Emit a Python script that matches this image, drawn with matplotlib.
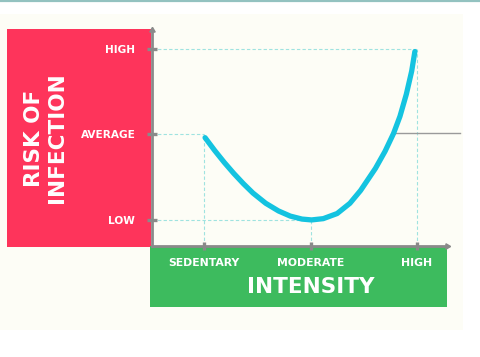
import matplotlib
matplotlib.use("Agg")
import matplotlib.pyplot as plt
from matplotlib.patches import Rectangle
from matplotlib.lines import Line2D

# ---- data ----
x_categories = ["SEDENTARY", "MODERATE", "HIGH"]
y_categories = ["LOW", "AVERAGE", "HIGH"]
x_positions = [0, 1, 2]
y_positions = [0, 1, 2]
curve_x = [0.01, 0.10, 0.19, 0.28, 0.37, 0.46, 0.58, 0.70, 0.81, 0.92, 1.01, 1.12,
           1.25, 1.37, 1.47, 1.61, 1.70, 1.78, 1.84, 1.90, 1.95, 1.98]
curve_y = [0.96, 0.81, 0.67, 0.54, 0.42, 0.31, 0.19, 0.10, 0.04, 0.005, -0.005, 0.01,
           0.07, 0.19, 0.34, 0.60, 0.80, 1.01, 1.21, 1.47, 1.74, 1.97]
# guide points (category x, risk y) where dashed lines meet the curve
guide_x = [0, 1, 2]
guide_y = [1, 0, 2]
stray_line_x = [1.765, 2.40]
stray_line_y = [1.02, 1.02]
y_title = "RISK OF\nINFECTION"
x_title = "INTENSITY"

W, H = 480, 357
fig = plt.figure(figsize=(W / 100, H / 100), dpi=100)
fig.patch.set_facecolor("white")

def fx(px):
    return px / W

def fy(py):
    return 1 - py / H

# cream panel
fig.patches.append(Rectangle((fx(0), fy(330)), fx(463), (330 - 14) / H,
                             transform=fig.transFigure, facecolor="#fdfdf6",
                             edgecolor="none", zorder=0))
# top teal line
fig.lines.append(Line2D([0, 1], [fy(0.8), fy(0.8)], transform=fig.transFigure,
                        color="#93c2c0", lw=1.6))
# red box
fig.patches.append(Rectangle((fx(7), fy(247)), fx(151 - 7), (247 - 29) / H,
                             transform=fig.transFigure, facecolor="#fe345b",
                             edgecolor="none", zorder=1))
# green box
fig.patches.append(Rectangle((fx(150), fy(307)), fx(447 - 150), (307 - 246) / H,
                             transform=fig.transFigure, facecolor="#3dbb5e",
                             edgecolor="none", zorder=1))

left, right, top, bottom = 152, 447, 30, 246
ax = fig.add_axes([fx(left), fy(bottom), fx(right - left), (bottom - top) / H])
ax.set_facecolor("none")
ax.set_zorder(2)
x_unit = 106.5
y_unit = 85.25
ax.set_xlim((left - 204) / x_unit, (right - 204) / x_unit)
ax.set_ylim((219.5 - bottom) / y_unit, (219.5 - top) / y_unit)

gray = "#8a8a8a"
for s in ["top", "right"]:
    ax.spines[s].set_visible(False)
for s in ["left", "bottom"]:
    ax.spines[s].set_color(gray)
    ax.spines[s].set_linewidth(2.0)
    ax.spines[s].set_zorder(6)

font = "DejaVu Sans"
ax.set_xticks(x_positions)
ax.set_xticklabels(x_categories)
ax.set_yticks(y_positions)
ax.set_yticklabels(y_categories)
ax.tick_params(axis="y", direction="inout", length=7, width=2.4, color=gray,
               pad=8.5, labelcolor="white", labelsize=7.6)
ax.tick_params(axis="x", direction="inout", length=6, width=2.4, color=gray,
               pad=6, labelcolor="white", labelsize=7.8)
for lab in ax.get_xticklabels() + ax.get_yticklabels():
    lab.set_fontweight("bold")
    lab.set_fontfamily(font)

# arrow heads
ax.plot([0], [1], marker=(3, 0, 0), transform=ax.transAxes, clip_on=False,
        color=gray, markersize=4.5, zorder=7)
ax.plot([1], [0], marker=(3, 0, -90), transform=ax.transAxes, clip_on=False,
        color=gray, markersize=4.5, zorder=7)

# dashed guides
guide_kw = dict(color="#9fe3e0", lw=0.8, dashes=(3, 2), zorder=1)
x0 = ax.get_xlim()[0]
y0 = ax.get_ylim()[0]
for gx, gy in zip(guide_x, guide_y):
    ax.plot([x0, gx], [gy, gy], **guide_kw)
    ax.plot([gx, gx], [y0, gy], **guide_kw)

# stray gray line
ax.plot(stray_line_x, stray_line_y, color="#9a9a9a", lw=1.0, clip_on=False, zorder=2)

# curve
ax.plot(curve_x, curve_y, color="#14c3e0", lw=3.8, solid_capstyle="round",
        solid_joinstyle="round", zorder=4)

# titles
fig.text(fx(45.5), fy(138), y_title, rotation=90, ha="center", va="center",
         multialignment="center", color="white", fontsize=15.5, fontweight="bold",
         family=font, linespacing=1.15, zorder=3)
fig.text(fx(311), fy(287), x_title, ha="center", va="center", color="white",
         fontsize=15.5, fontweight="bold", family=font, zorder=3)

fig.savefig("out.png", dpi=100, facecolor=fig.get_facecolor())
